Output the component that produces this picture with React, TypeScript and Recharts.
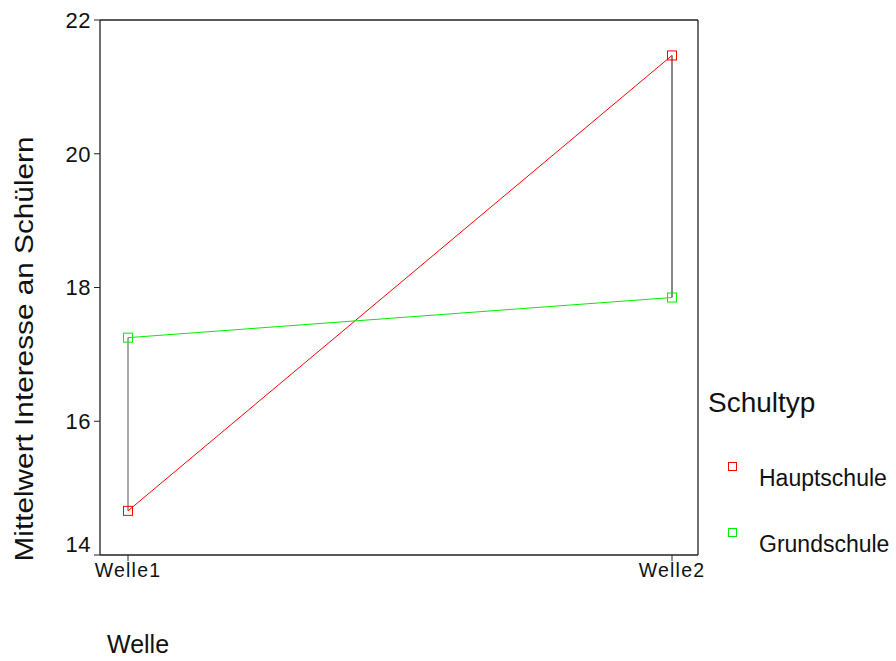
import React from 'react';
import { LineChart, Line, XAxis, YAxis, ReferenceLine, Label, CartesianGrid } from 'recharts';

const waves = ['Welle1', 'Welle2'];
const hauptschule = [14.66, 21.47];
const grundschule = [17.25, 17.85];
const yTicks = [14, 16, 18, 20, 22];

const seriesList = [
  { key: 'haupt', name: 'Hauptschule', color: '#ff0000' },
  { key: 'grund', name: 'Grundschule', color: '#00ee00' },
];

const data = waves.map((w, i) => ({ wave: w, haupt: hauptschule[i], grund: grundschule[i] }));

const font = '"Liberation Sans", Arial, sans-serif';

// offene Quadrate als Marker
const squareDot = (color: string) => (props: any) => {
  const { cx, cy, index } = props;
  if (cx == null || cy == null) return <g key={index} />;
  return <rect key={index} x={cx - 4.5} y={cy - 4.5} width={9} height={9} fill="none" stroke={color} strokeWidth={1} />;
};

const YTick = (props: any) => {
  const { x, y, payload } = props;
  // unterste Beschriftung sitzt etwas höher
  const shift = payload.value === 14 ? -11 : 0;
  return (
    <text x={x - 1} y={y + shift} dy="0.36em" textAnchor="end" fontSize={22} letterSpacing={0.5} fill="#111" fontFamily={font}>
      {payload.value}
    </text>
  );
};

const XTick = (props: any) => {
  const { x, y, payload } = props;
  return (
    <text x={x} y={y} dy={14} textAnchor="middle" fontSize={19.5} letterSpacing={1.2} fill="#111" fontFamily={font}>
      {payload.value}
    </text>
  );
};

export default function App() {
  return (
    <div style={{ position: 'absolute', left: 0, top: 0, width: 896, height: 661, background: '#fff', fontFamily: font }}>
      <LineChart width={896} height={661} data={data} margin={{ top: 20, right: 198, bottom: 76, left: 40 }}>
        {/* Rahmen oben und rechts */}
        <CartesianGrid
          stroke="#222"
          strokeWidth={1.3}
          horizontalCoordinatesGenerator={({ offset }: any) => [offset.top]}
          verticalCoordinatesGenerator={({ offset }: any) => [offset.left + offset.width]}
        />
        <XAxis
          dataKey="wave"
          height={30}
          padding={{ left: 28, right: 26 }}
          axisLine={{ stroke: '#222', strokeWidth: 1.3 }}
          tickLine={{ stroke: '#222' }}
          tickSize={6}
          tick={<XTick />}
        >
          <Label
            content={() => (
              <text x={107} y={653} fontSize={25} fill="#111" fontFamily={font}>Welle</text>
            )}
          />
        </XAxis>
        <YAxis
          width={60}
          domain={[14, 22]}
          ticks={yTicks}
          allowDataOverflow
          axisLine={{ stroke: '#222', strokeWidth: 1.3 }}
          tickLine={{ stroke: '#222' }}
          tickSize={6}
          tick={<YTick />}
        >
          <Label
            content={() => (
              <text
                x={33}
                y={349}
                transform="rotate(-90, 33, 349)"
                textAnchor="middle"
                fontSize={25}
                fill="#111"
                fontFamily={font}
                textLength={425}
                lengthAdjust="spacingAndGlyphs"
              >
                Mittelwert Interesse an Schülern
              </text>
            )}
          />
        </YAxis>
        <ReferenceLine
          segment={[{ x: waves[0], y: grundschule[0] }, { x: waves[0], y: hauptschule[0] }]}
          stroke="#555"
          strokeWidth={1}
        />
        <ReferenceLine
          segment={[{ x: waves[1], y: hauptschule[1] }, { x: waves[1], y: grundschule[1] }]}
          stroke="#111"
          strokeWidth={1}
        />
        {seriesList.map(s => (
          <Line
            key={s.key}
            dataKey={s.key}
            name={s.name}
            type="linear"
            stroke={s.color}
            strokeWidth={1}
            dot={squareDot(s.color)}
            activeDot={false}
            isAnimationActive={false}
          />
        ))}
      </LineChart>

      {/* Legende */}
      <div style={{ position: 'absolute', left: 708, top: 385, fontSize: 28, color: '#111', lineHeight: '36px' }}>Schultyp</div>
      {seriesList.map((s, i) => (
        <div key={s.key} style={{ position: 'absolute', left: 728, top: 462 + i * 66, height: 30 }}>
          <div style={{ position: 'absolute', left: 0, top: 0, width: 7, height: 7, border: `1px solid ${s.color}` }} />
          <div style={{ position: 'absolute', left: 31, top: 2, fontSize: 23, color: '#111', whiteSpace: 'nowrap', lineHeight: '28px' }}>{s.name}</div>
        </div>
      ))}
    </div>
  );
}
